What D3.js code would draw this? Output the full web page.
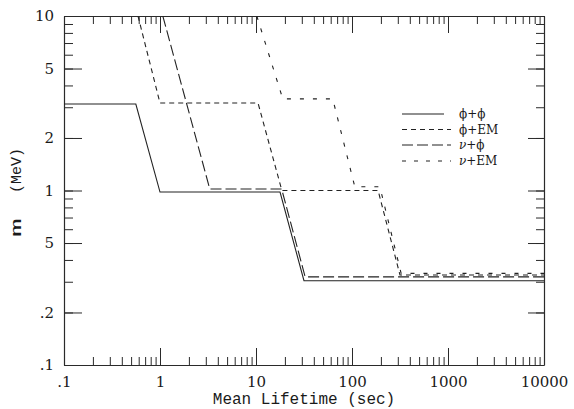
<!DOCTYPE html>
<html>
<head>
<meta charset="utf-8">
<script src="https://cdn.jsdelivr.net/npm/d3@7"></script>
<style>
  body { margin: 0; background: #fff; }
  svg { display: block; }
</style>
</head>
<body>
<svg id="chart" width="574" height="409"></svg>
<script>
// Decay channels
const seriesNames = ["\u03D5+\u03D5", "\u03D5+EM", "\u03BD+\u03D5", "\u03BD+EM"];

// Mean lifetime (sec) and mass bound m (MeV) along each curve
const phiPhiLife = [0.1, 0.56, 1.0, 17.8, 31.6, 10000];
const phiPhiMass = [3.13, 3.13, 0.98, 0.98, 0.304, 0.304];

const phiEmLife = [0.59, 1.0, 10.5, 18.6, 187, 316, 10000];
const phiEmMass = [10, 3.17, 3.17, 1.0, 1.0, 0.328, 0.328];

const nuPhiLife = [1.07, 3.3, 18.5, 32.5, 10000];
const nuPhiMass = [10, 1.02, 1.02, 0.32, 0.32];

const nuEmLife = [10.2, 19, 63, 107, 195, 325, 10000];
const nuEmMass = [10, 3.35, 3.35, 1.05, 1.05, 0.335, 0.335];

// Axis ticks
const xMajorTicks = [0.1, 1, 10, 100, 1000, 10000];
const xTickLabels = [".1", "1", "10", "100", "1000", "10000"];
const yLabeledTicks = [0.1, 0.2, 0.5, 1, 2, 5, 10];
const yTickLabels = [".1", ".2", "5", "1", "2", "5", "10"];

const lifeArrays = [phiPhiLife, phiEmLife, nuPhiLife, nuEmLife];
const massArrays = [phiPhiMass, phiEmMass, nuPhiMass, nuEmMass];
const dashes = [null, "5,4", "11,4", "4,9"];
const legendDashes = [null, "5,4", "11,4", "4,8"];

const svg = d3.select("#chart");
const L = 64, R = 544, T = 16, B = 365;

const x = d3.scaleLog().domain([0.1, 10000]).range([L, R]);
const y = d3.scaleLog().domain([0.1, 10]).range([B, T]);

const ink = "#2a2a2a";
const tickFont = "'DejaVu Serif', serif";
const monoFont = "'Liberation Mono', 'DejaVu Sans Mono', monospace";

function styleAxis(g, showDomain) {
  g.selectAll(".tick line").attr("stroke", ink).attr("stroke-width", 1);
  g.select(".domain").attr("stroke", showDomain ? ink : "none").attr("stroke-width", 1.2);
  g.selectAll("text").attr("fill", "#1a1a1a").style("font-family", tickFont).style("font-size", "15px");
}

// Bottom axis: minor then labelled decades
svg.append("g").attr("transform", `translate(0,${B})`)
  .call(d3.axisBottom(x).tickValues(x.ticks()).tickSize(-8).tickSizeOuter(0).tickFormat(""))
  .call(g => styleAxis(g, true));
svg.append("g").attr("transform", `translate(0,${B})`)
  .call(d3.axisBottom(x).tickValues(xMajorTicks).tickSize(-17).tickSizeOuter(0).tickPadding(11)
    .tickFormat((d, i) => xTickLabels[i]))
  .call(g => styleAxis(g, false));

// Top axis
svg.append("g").attr("transform", `translate(0,${T})`)
  .call(d3.axisTop(x).tickValues(x.ticks()).tickSize(-8).tickSizeOuter(0).tickFormat(""))
  .call(g => styleAxis(g, true));
svg.append("g").attr("transform", `translate(0,${T})`)
  .call(d3.axisTop(x).tickValues(xMajorTicks.slice(1, -1)).tickSize(-17).tickSizeOuter(0).tickFormat(""))
  .call(g => styleAxis(g, false));

// Left axis
svg.append("g").attr("transform", `translate(${L},0)`)
  .call(d3.axisLeft(y).tickValues(y.ticks()).tickSize(-9).tickSizeOuter(0).tickFormat(""))
  .call(g => styleAxis(g, true));
svg.append("g").attr("transform", `translate(${L},0)`)
  .call(d3.axisLeft(y).tickValues(yLabeledTicks).tickSize(-18).tickSizeOuter(0).tickPadding(10)
    .tickFormat((d, i) => yTickLabels[i]))
  .call(g => styleAxis(g, false));

// Right axis
svg.append("g").attr("transform", `translate(${R},0)`)
  .call(d3.axisRight(y).tickValues(y.ticks()).tickSize(-8).tickSizeOuter(0).tickFormat(""))
  .call(g => styleAxis(g, true));
svg.append("g").attr("transform", `translate(${R},0)`)
  .call(d3.axisRight(y).tickValues(yLabeledTicks).tickSize(-16).tickSizeOuter(0).tickFormat(""))
  .call(g => styleAxis(g, false));

// Curves
svg.append("clipPath").attr("id", "plotArea")
  .append("rect").attr("x", L).attr("y", T).attr("width", R - L).attr("height", B - T);

const line = d3.line().x(d => x(d[0])).y(d => y(d[1]));

const curves = svg.append("g").attr("clip-path", "url(#plotArea)");
seriesNames.forEach((name, i) => {
  const pts = lifeArrays[i].map((t, k) => [t, massArrays[i][k]]);
  curves.append("path")
    .datum(pts)
    .attr("d", line)
    .attr("fill", "none")
    .attr("stroke", "#222")
    .attr("stroke-width", 1.1)
    .attr("stroke-dasharray", dashes[i]);
});

// Legend
const legendRows = [114, 129.5, 145, 161];
const legend = svg.append("g");
seriesNames.forEach((name, i) => {
  legend.append("line")
    .attr("x1", 402).attr("x2", i === 0 ? 444 : 451)
    .attr("y1", legendRows[i]).attr("y2", legendRows[i])
    .attr("stroke", "#222").attr("stroke-width", 1.1)
    .attr("stroke-dasharray", legendDashes[i]);
  const t = legend.append("text")
    .attr("x", 459).attr("y", legendRows[i]).attr("dy", "0.35em")
    .style("font-family", "'DejaVu Serif', 'Liberation Serif', serif")
    .style("font-size", "12px").attr("fill", "#1a1a1a");
  const parts = name.split("+");
  t.append("tspan").style("font-style", parts[0] === "\u03BD" ? "italic" : "normal").text(parts[0]);
  t.append("tspan").text("+");
  t.append("tspan").style("font-style", parts[1] === "\u03BD" ? "italic" : "normal").text(parts[1]);
});

// Axis titles
svg.append("text")
  .attr("x", (L + R) / 2).attr("y", 404)
  .attr("text-anchor", "middle")
  .style("font-family", monoFont).style("font-size", "16px").attr("fill", "#1a1a1a")
  .text("Mean Lifetime (sec)");

const yTitle = svg.append("text")
  .attr("transform", "translate(21,237) rotate(-90)")
  .style("font-family", monoFont).style("font-size", "15px").attr("fill", "#1a1a1a");
yTitle.append("tspan").attr("textLength", 19).attr("lengthAdjust", "spacingAndGlyphs").text("m");
yTitle.append("tspan").attr("dx", 25).text("(MeV)");
</script>
</body>
</html>
